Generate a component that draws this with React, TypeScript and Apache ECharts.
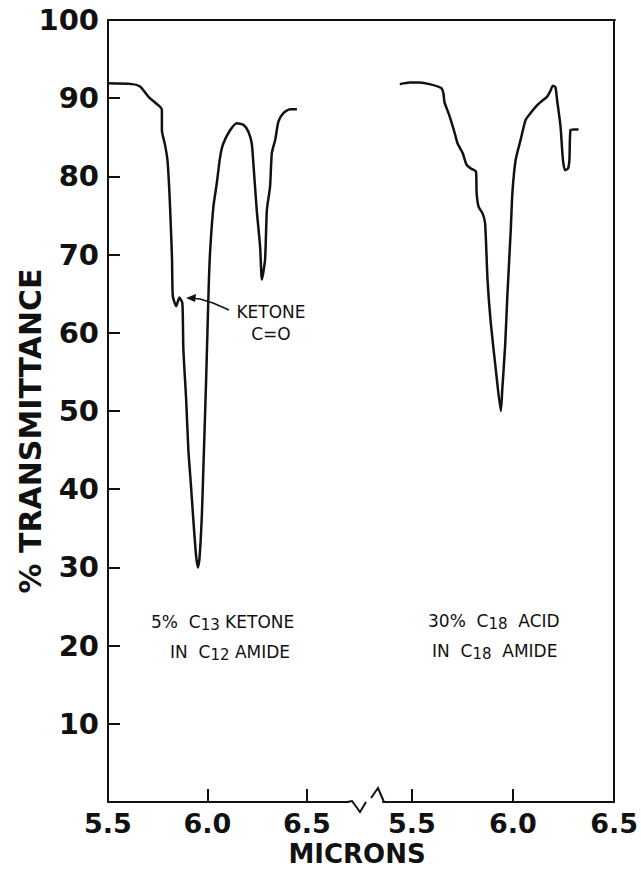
import React, { useEffect, useRef } from 'react';
import * as echarts from 'echarts';

// Left panel: 5% C13 ketone in C12 amide (microns, % transmittance)
const leftMicrons = [5.5, 5.62, 5.661, 5.703, 5.72, 5.762, 5.771, 5.771, 5.787, 5.799, 5.809, 5.816, 5.822, 5.826, 5.843, 5.859, 5.874, 5.879, 5.893, 5.904, 5.916, 5.93, 5.943, 5.952, 5.96, 5.972, 5.98, 5.988, 5.993, 6.0, 6.007, 6.014, 6.03, 6.047, 6.064, 6.08, 6.114, 6.148, 6.181, 6.206, 6.223, 6.231, 6.248, 6.265, 6.274, 6.29, 6.299, 6.315, 6.324, 6.341, 6.357, 6.382, 6.416, 6.45];
const leftTrans = [91.9, 91.8, 91.5, 90.2, 89.8, 88.9, 88.5, 85.9, 84.0, 82.1, 77.9, 73.6, 69.4, 64.7, 63.4, 64.5, 63.8, 57.9, 51.5, 45.1, 40.9, 35.8, 31.5, 30.0, 31.1, 36.6, 43.0, 49.4, 53.6, 60.0, 66.4, 70.6, 76.1, 79.1, 82.5, 84.2, 85.9, 86.8, 86.6, 85.7, 84.2, 81.7, 75.7, 71.0, 66.8, 69.4, 75.7, 78.7, 83.0, 84.7, 87.0, 88.1, 88.6, 88.6];

// Right panel: 30% C18 acid in C18 amide
const rightMicrons = [5.44, 5.489, 5.538, 5.587, 5.645, 5.656, 5.661, 5.685, 5.71, 5.726, 5.751, 5.77, 5.792, 5.817, 5.82, 5.83, 5.849, 5.862, 5.874, 5.89, 5.915, 5.94, 5.947, 5.961, 5.972, 5.989, 5.997, 6.013, 6.038, 6.062, 6.087, 6.112, 6.136, 6.169, 6.186, 6.197, 6.21, 6.218, 6.235, 6.247, 6.257, 6.272, 6.279, 6.284, 6.3, 6.324];
const rightTrans = [91.8, 92.0, 92.0, 91.8, 91.3, 90.6, 89.5, 87.8, 85.7, 84.2, 83.0, 81.5, 81.0, 80.6, 77.9, 76.1, 75.3, 74.0, 66.8, 61.3, 55.3, 50.0, 52.8, 58.3, 64.7, 73.2, 77.9, 82.1, 84.7, 87.2, 88.1, 88.9, 89.5, 90.2, 91.0, 91.6, 91.4, 89.8, 86.4, 82.1, 80.8, 81.0, 82.1, 85.9, 86.0, 86.0];

const yTickValues = [10, 20, 30, 40, 50, 60, 70, 80, 90];
const yLabelValues = [10, 20, 30, 40, 50, 60, 70, 80, 90, 100];
const xLabelValues = [5.5, 6.0, 6.5];
const leftXTicks = [6.0, 6.5];
const rightXTicks = [5.5, 6.0];

const INK = '#111';
const FONT = 'DejaVu Sans';

export default function App() {
  const ref = useRef<HTMLDivElement>(null);
  useEffect(() => {
    if (!ref.current) return;
    const chart = echarts.init(ref.current, null, { renderer: 'svg' });
    const zip = (xs: number[], ys: number[]) => xs.map((x, i) => [x, ys[i]]);
    const gTop = 20;
    const gH = 782;
    const axisLine = { show: true, onZero: false, lineStyle: { color: INK, width: 2 } };
    const xLabel = {
      customValues: xLabelValues,
      formatter: (v: number) => v.toFixed(1),
      fontSize: 27,
      fontFamily: FONT,
      fontWeight: 'bold' as const,
      color: INK,
      margin: 8,
    };
    const sub = { fontSize: 15, lineHeight: 13, verticalAlign: 'bottom', fontFamily: FONT, fill: INK };
    const nrm = { fontSize: 17, lineHeight: 20, fontFamily: FONT, fill: INK };
    const richStyle = { n: nrm, s: sub };
    chart.setOption({
      animation: false,
      backgroundColor: '#fff',
      grid: [
        { left: 108, top: gTop, width: 240, height: gH },
        { left: 383, top: gTop, width: 232, height: gH },
        { left: 108, top: gTop, width: 507, height: gH },
      ],
      xAxis: [
        {
          gridIndex: 0, type: 'value', min: 5.5, max: 6.707,
          axisLine,
          axisTick: { show: true, inside: true, length: 13, customValues: leftXTicks, lineStyle: { color: INK, width: 2 } },
          axisLabel: xLabel,
          splitLine: { show: false },
        },
        {
          gridIndex: 1, type: 'value', min: 5.357, max: 6.5,
          axisLine,
          axisTick: { show: true, inside: true, length: 13, customValues: rightXTicks, lineStyle: { color: INK, width: 2 } },
          axisLabel: xLabel,
          splitLine: { show: false },
        },
        {
          gridIndex: 2, type: 'value', position: 'top', min: 0, max: 1,
          axisLine,
          axisTick: { show: false },
          axisLabel: { show: false },
          splitLine: { show: false },
        },
      ],
      yAxis: [
        {
          gridIndex: 0, type: 'value', min: 0, max: 100,
          axisLine,
          axisTick: { show: true, inside: true, length: 12, customValues: yTickValues, lineStyle: { color: INK, width: 2 } },
          axisLabel: {
            customValues: yLabelValues,
            fontSize: 29,
            fontFamily: FONT,
            fontWeight: 'bold',
            color: INK,
            margin: 9,
            padding: [8, 0, 0, 0],
          },
          splitLine: { show: false },
        },
        {
          gridIndex: 1, type: 'value', min: 0, max: 100, position: 'right',
          axisLine,
          axisTick: { show: false },
          axisLabel: { show: false },
          splitLine: { show: false },
        },
        { gridIndex: 2, type: 'value', min: 0, max: 100, show: false },
      ],
      series: [
        {
          type: 'line', xAxisIndex: 0, yAxisIndex: 0,
          data: zip(leftMicrons, leftTrans),
          showSymbol: false, symbol: 'none', smooth: 0.2,
          lineStyle: { color: INK, width: 2.5 },
        },
        {
          type: 'line', xAxisIndex: 1, yAxisIndex: 1,
          data: zip(rightMicrons, rightTrans),
          showSymbol: false, symbol: 'none', smooth: 0.2,
          lineStyle: { color: INK, width: 2.5 },
        },
      ],
      graphic: [
        // axis break marks
        { type: 'polyline', shape: { points: [[347, 802], [352, 801], [360, 812], [366, 802]] }, style: { stroke: INK, lineWidth: 2, fill: 'none' } },
        { type: 'polyline', shape: { points: [[371, 798], [378, 788], [384, 802]] }, style: { stroke: INK, lineWidth: 2, fill: 'none' } },
        // y-axis title
        {
          type: 'text', x: 30, y: 431, rotation: Math.PI / 2,
          style: { text: '% TRANSMITTANCE', font: `bold 30px "${FONT}"`, fill: INK, textAlign: 'center', textVerticalAlign: 'middle' },
        },
        // x-axis title
        {
          type: 'text', x: 357, y: 854,
          style: { text: 'MICRONS', font: `bold 26px "${FONT}"`, fill: INK, textAlign: 'center', textVerticalAlign: 'middle' },
        },
        // ketone annotation
        {
          type: 'text', x: 271, y: 312,
          style: { text: 'KETONE', font: `17px "${FONT}"`, fill: INK, textAlign: 'center', textVerticalAlign: 'middle' },
        },
        {
          type: 'text', x: 271, y: 334,
          style: { text: 'C=O', font: `17px "${FONT}"`, fill: INK, textAlign: 'center', textVerticalAlign: 'middle' },
        },
        { type: 'polyline', shape: { points: [[229, 310], [213, 303], [200, 299], [189, 298]] }, style: { stroke: INK, lineWidth: 1.5, fill: 'none' } },
        { type: 'polygon', shape: { points: [[186, 298], [196, 294], [195, 302]] }, style: { fill: INK } },
        // sample labels
        {
          type: 'text', x: 151, y: 622,
          style: { text: '{n|5%  C}{s|13}{n| KETONE}', rich: richStyle, textAlign: 'left', textVerticalAlign: 'middle', fill: INK },
        },
        {
          type: 'text', x: 170, y: 652,
          style: { text: '{n|IN  C}{s|12}{n| AMIDE}', rich: richStyle, textAlign: 'left', textVerticalAlign: 'middle', fill: INK },
        },
        {
          type: 'text', x: 428, y: 621,
          style: { text: '{n|30%  C}{s|18}{n|  ACID}', rich: richStyle, textAlign: 'left', textVerticalAlign: 'middle', fill: INK },
        },
        {
          type: 'text', x: 432, y: 651,
          style: { text: '{n|IN  C}{s|18}{n|  AMIDE}', rich: richStyle, textAlign: 'left', textVerticalAlign: 'middle', fill: INK },
        },
      ],
    });
    return () => chart.dispose();
  }, []);
  return <div ref={ref} style={{ position: 'absolute', left: 0, top: 0, width: 641, height: 871 }} />;
}
